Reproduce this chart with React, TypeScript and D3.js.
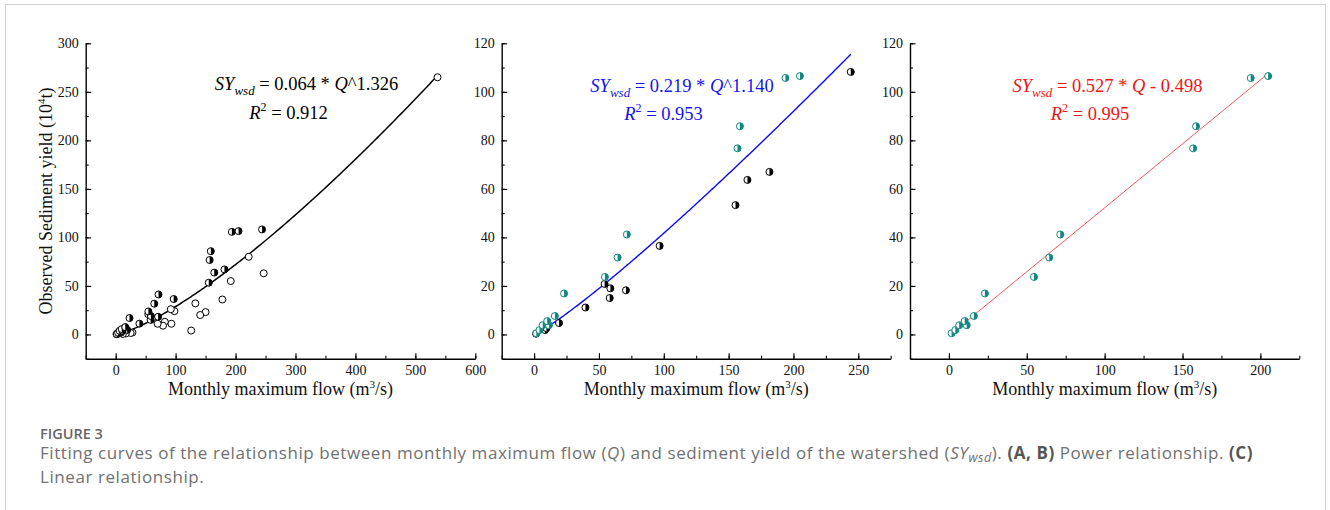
import React, { useEffect, useRef } from 'react';
import * as d3 from 'd3';

// Panel A only: open circles (months not used in B / C)
const openQ = [537, 247, 222, 192, 178, 150, 141, 133, 126, 98, 92, 93, 82, 79, 70, 61, 28, 25, 17, 12, 6, 3];
const openSY = [265, 63, 80, 55, 36, 23, 20, 32, 4, 24, 26, 11, 13, 9, 11, 16.5, 2, 1.5, 1, 0.5, 1.5, 0.5];

// Panel B black half-filled points (also half-filled in A)
const blackQ = [1.5, 8.4, 9.5, 19.2, 39.6, 54.4, 58.3, 58.8, 70.8, 96.8, 155.3, 164.5, 181.5, 244.2];
const blackSY = [0.3, 1.8, 2.6, 4.7, 11.1, 20.8, 15.0, 19.0, 18.2, 36.5, 53.3, 63.7, 67.0, 108.2];

// Teal half-filled points (panel C, also shown in B, and in A as black)
const tealQ = [1.7, 4.1, 6.6, 11.4, 10.1, 16.0, 23.1, 54.6, 64.4, 71.5, 156.8, 158.7, 193.8, 205.0];
const tealSY = [0.5, 1.8, 3.8, 3.8, 5.5, 7.6, 16.9, 23.7, 31.7, 41.2, 76.7, 85.8, 105.7, 106.5];

// Fitted relationships shown on the panels
const fitA = { a: 0.064, b: 1.326 };
const fitB = { a: 0.219, b: 1.14 };
const fitC = { k: 0.527, c: -0.498 };

// Tick values
const xTicksA = [0, 100, 200, 300, 400, 500, 600];
const yTicksA = [0, 50, 100, 150, 200, 250, 300];
const xTicksB = [0, 50, 100, 150, 200, 250];
const xTicksC = [0, 50, 100, 150, 200];
const yTicksBC = [0, 20, 40, 60, 80, 100, 120];

const TEAL = '#12877f';
const SERIF = '"Liberation Serif", "Times New Roman", serif';

const zip = (xs: number[], ys: number[]) => xs.map((x, i) => ({ x, y: ys[i] }));

type Seg = [string, string?];

const App = () => {
  const ref = useRef<SVGSVGElement>(null);

  useEffect(() => {
    if (!ref.current) return;
    const svg = d3.select(ref.current);
    svg.selectAll('*').remove();

    // outer frame of the figure
    svg.append('rect')
      .attr('x', 5.5).attr('y', 4.5).attr('width', 1320).attr('height', 600)
      .attr('fill', 'none').attr('stroke', '#d0d0d0').attr('stroke-width', 1);

    const drawPanel = (opts: {
      xDom: [number, number]; xRange: [number, number];
      yDom: [number, number]; xTicks: number[]; yTicks: number[];
      xMinorStep: number; yMinorStep: number;
    }) => {
      const x = d3.scaleLinear().domain(opts.xDom).range(opts.xRange);
      const y = d3.scaleLinear().domain(opts.yDom).range([358.7, 43.3]);
      const g = svg.append('g');

      // minor ticks (inward)
      const xMinor = d3.range(opts.xDom[0], opts.xDom[1] + 0.001, opts.xMinorStep);
      const yMinor = d3.range(opts.yDom[0], opts.yDom[1] + 0.001, opts.yMinorStep);
      g.append('g').attr('transform', `translate(0,${y(opts.yDom[0])})`)
        .call(d3.axisBottom(x).tickValues(xMinor).tickSize(-3).tickSizeOuter(0).tickFormat(() => ''))
        .call(a => a.select('.domain').remove());
      g.append('g').attr('transform', `translate(${x(opts.xDom[0])},0)`)
        .call(d3.axisLeft(y).tickValues(yMinor).tickSize(-3).tickSizeOuter(0).tickFormat(() => ''))
        .call(a => a.select('.domain').remove());

      // major axes
      g.append('g').attr('transform', `translate(0,${y(opts.yDom[0])})`)
        .call(d3.axisBottom(x).tickValues(opts.xTicks).tickSize(-5.5).tickSizeOuter(0).tickPadding(6.5));
      g.append('g').attr('transform', `translate(${x(opts.xDom[0])},0)`)
        .call(d3.axisLeft(y).tickValues(opts.yTicks).tickSize(-5.5).tickSizeOuter(0).tickPadding(7));
      g.selectAll('.domain').attr('stroke-width', 1.4);
      g.selectAll('.tick line').attr('stroke-width', 1.1);
      g.selectAll('.tick text')
        .style('font-family', SERIF).style('font-size', '14px').attr('fill', '#111');

      // x axis title
      const xt = g.append('text')
        .attr('x', (opts.xRange[0] + opts.xRange[1]) / 2).attr('y', 395)
        .attr('text-anchor', 'middle').style('font-family', SERIF).style('font-size', '18px').attr('fill', '#111');
      xt.append('tspan').text('Monthly maximum flow (m');
      xt.append('tspan').style('font-size', '11px').attr('dy', -7).text('3');
      xt.append('tspan').attr('dy', 7).text('/s)');

      return { x, y, g };
    };

    // half-filled circle marker (left half white, right half coloured)
    const drawPoints = (g: any, x: any, y: any, pts: { x: number; y: number }[], color: string, half: boolean) => {
      const r = 3.5;
      const m = g.append('g').selectAll('g').data(pts).enter().append('g')
        .attr('transform', (d: any) => `translate(${x(d.x)},${y(d.y)})`);
      m.append('circle').attr('r', r).attr('fill', 'white').attr('stroke', color).attr('stroke-width', 1);
      if (half) {
        m.append('path').attr('d', `M0,${-r}A${r},${r} 0 0 1 0,${r}Z`).attr('fill', color);
      }
    };

    const drawEq = (g: any, cx: number, by: number, segs: Seg[], color: string) => {
      const t = g.append('text').attr('x', cx).attr('y', by).attr('text-anchor', 'middle')
        .style('font-family', SERIF).style('font-size', '18.5px').attr('fill', color)
        .style('white-space', 'pre');
      segs.forEach(([s, kind]) => {
        const sp = t.append('tspan').text(s);
        if (kind === 'i') sp.attr('font-style', 'italic');
        if (kind === 'sub') sp.attr('font-style', 'italic').style('font-size', '13px').attr('dy', 5);
        if (kind === 'after') sp.attr('dy', -5);
        if (kind === 'sup') sp.style('font-size', '12px').attr('dy', -8);
        if (kind === 'aftersup') sp.attr('dy', 8);
      });
    };

    const allHalf = zip(blackQ, blackSY).concat(zip(tealQ, tealSY));

    // ---------- Panel A ----------
    const A = drawPanel({
      xDom: [-50, 600], xRange: [85.7, 475.3], yDom: [-25, 300],
      xTicks: xTicksA, yTicks: yTicksA, xMinorStep: 50, yMinorStep: 25,
    });
    const qA = d3.extent(allHalf.concat(zip(openQ, openSY)), d => d.x) as [number, number];
    const lineA = d3.line<number>().x(q => A.x(q)).y(q => A.y(fitA.a * Math.pow(q, fitA.b)));
    A.g.append('path').attr('d', lineA(d3.range(qA[0], qA[1], 2).concat([qA[1]])))
      .attr('fill', 'none').attr('stroke', '#000').attr('stroke-width', 1.5);
    drawPoints(A.g, A.x, A.y, zip(openQ, openSY), '#000', false);
    drawPoints(A.g, A.x, A.y, allHalf, '#000', true);
    drawEq(A.g, 306.5, 90, [['SY', 'i'], ['wsd', 'sub'], [' = 0.064 * ', 'after'], ['Q', 'i'], ['^1.326']], '#000');
    drawEq(A.g, 288.5, 119, [['R', 'i'], ['2', 'sup'], [' = 0.912', 'aftersup']], '#000');
    A.g.append('text')
      .attr('transform', 'translate(52,201) rotate(-90)')
      .attr('text-anchor', 'middle').style('font-family', SERIF).style('font-size', '18px').attr('fill', '#111')
      .call((t: any) => {
        t.append('tspan').text('Observed Sediment yield (10');
        t.append('tspan').style('font-size', '11px').attr('dy', -7).text('4');
        t.append('tspan').attr('dy', 7).text('t)');
      });

    // ---------- Panel B ----------
    const B = drawPanel({
      xDom: [-25, 275], xRange: [501.7, 890.7], yDom: [-10, 120],
      xTicks: xTicksB, yTicks: yTicksBC, xMinorStep: 25, yMinorStep: 10,
    });
    const qB = d3.extent(allHalf, d => d.x) as [number, number];
    const lineB = d3.line<number>().x(q => B.x(q)).y(q => B.y(fitB.a * Math.pow(q, fitB.b)));
    B.g.append('path').attr('d', lineB(d3.range(qB[0], qB[1], 1).concat([qB[1]])))
      .attr('fill', 'none').attr('stroke', '#0a0af5').attr('stroke-width', 1.4);
    drawPoints(B.g, B.x, B.y, zip(blackQ, blackSY), '#000', true);
    drawPoints(B.g, B.x, B.y, zip(tealQ, tealSY), TEAL, true);
    drawEq(B.g, 682, 91.5, [['SY', 'i'], ['wsd', 'sub'], [' = 0.219 * ', 'after'], ['Q', 'i'], ['^1.140']], '#1414f0');
    drawEq(B.g, 663.5, 120, [['R', 'i'], ['2', 'sup'], [' = 0.953', 'aftersup']], '#1414f0');

    // ---------- Panel C ----------
    const C = drawPanel({
      xDom: [-25, 225], xRange: [910, 1299.3], yDom: [-10, 120],
      xTicks: xTicksC, yTicks: yTicksBC, xMinorStep: 25, yMinorStep: 10,
    });
    const qC = d3.extent(tealQ) as [number, number];
    C.g.append('line')
      .attr('x1', C.x(qC[0])).attr('y1', C.y(fitC.k * qC[0] + fitC.c))
      .attr('x2', C.x(qC[1])).attr('y2', C.y(fitC.k * qC[1] + fitC.c))
      .attr('stroke', '#f25a5a').attr('stroke-width', 1);
    drawPoints(C.g, C.x, C.y, zip(tealQ, tealSY), TEAL, true);
    drawEq(C.g, 1107.5, 91.5, [['SY', 'i'], ['wsd', 'sub'], [' = 0.527 * ', 'after'], ['Q', 'i'], [' - 0.498']], '#f01414');
    drawEq(C.g, 1090, 120, [['R', 'i'], ['2', 'sup'], [' = 0.995', 'aftersup']], '#f01414');

    // ---------- Caption ----------
    const cap = svg.append('g').style('font-family', '"Open Sans", sans-serif').attr('fill', '#707070');
    cap.append('text').attr('x', 40).attr('y', 439).style('font-size', '14.5px').attr('font-weight', 600)
      .attr('fill', '#666').text('FIGURE 3');
    const l1 = cap.append('text').attr('x', 40).attr('y', 459)
      .style('font-size', '17px').style('letter-spacing', '0.57px').style('white-space', 'pre');
    const parts: Seg[] = [
      ['Fitting curves of the relationship between monthly maximum flow ('], ['Q', 'i'],
      [') and sediment yield of the watershed ('], ['SY', 'i'], ['wsd', 'sub'], ['). ', 'after'],
      ['(A, B)', 'b'], [' Power relationship. '], ['(C)', 'b'],
    ];
    parts.forEach(([s, k]) => {
      const sp = l1.append('tspan').text(s);
      if (k === 'i') sp.attr('font-style', 'italic');
      if (k === 'sub') sp.attr('font-style', 'italic').style('font-size', '12.5px').attr('dy', 3);
      if (k === 'after') sp.attr('dy', -3);
      if (k === 'b') sp.attr('font-weight', 700).attr('fill', '#555');
    });
    cap.append('text').attr('x', 40).attr('y', 483)
      .style('font-size', '17px').style('letter-spacing', '0.57px').text('Linear relationship.');
  }, []);

  return (
    <svg ref={ref} width={1330} height={510}
      style={{ position: 'absolute', left: 0, top: 0, background: '#fff' }} />
  );
};

export default App;
